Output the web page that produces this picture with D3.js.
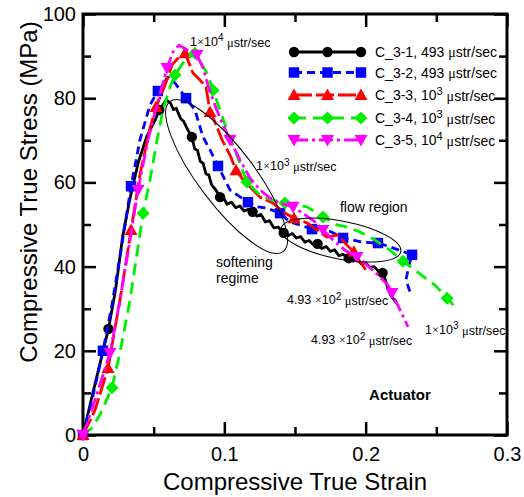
<!DOCTYPE html>
<html lang="en">
<head>
  <meta charset="utf-8">
  <title>Compressive True Stress vs Strain</title>
  <script src="https://cdn.jsdelivr.net/npm/d3@7"></script>
  <style>
    body { margin: 0; background: #fff; }
    text { font-family: "Liberation Sans", Arial, sans-serif; fill: #000; }
  </style>
</head>
<body>
  <svg class="chart"></svg>
<script>
  //1. Data (strain, stress in MPa)

  var c31Strain = [0, 0.007, 0.018, 0.023, 0.028, 0.033, 0.039, 0.045, 0.051, 0.054, 0.059, 0.062, 0.064, 0.066, 0.069, 0.071, 0.074, 0.077, 0.079, 0.081, 0.083, 0.085, 0.087, 0.089, 0.091, 0.094, 0.097, 0.100, 0.102, 0.105, 0.108, 0.111, 0.114, 0.117, 0.120, 0.123, 0.126, 0.129, 0.132, 0.135, 0.138, 0.142, 0.145, 0.148, 0.151, 0.154, 0.157, 0.160, 0.163, 0.166, 0.169, 0.172, 0.175, 0.178, 0.181, 0.184, 0.188, 0.191, 0.194, 0.197, 0.200, 0.203, 0.206, 0.209, 0.212, 0.214, 0.216, 0.218, 0.222];
  var c31Stress = [0, 10, 25.2, 34.4, 47, 55.8, 64.6, 70.8, 74.8, 77.2, 79.6, 78.8, 77.3, 77.6, 75.2, 74.6, 72.6, 70.8, 68.0, 67.6, 65.0, 64.5, 62.0, 61.8, 59.4, 58.2, 56.5, 56.0, 54.8, 55.3, 54.0, 54.4, 53.2, 53.6, 53.0, 52.0, 52.4, 50.6, 50.9, 49.2, 49.4, 48.0, 47.3, 47.9, 46.8, 47.1, 45.8, 46.2, 45.2, 45.4, 44.3, 44.8, 43.6, 44.0, 42.6, 42.9, 42.0, 41.3, 41.7, 40.6, 40.9, 39.8, 40.0, 38.9, 38.5, 36.8, 34.5, 33.0, 31.4];
  var c31MarkStrain = [0.018, 0.054, 0.077, 0.097, 0.120, 0.142, 0.166, 0.188, 0.212];
  var c31MarkStress = [25.2, 77.2, 70.8, 56.5, 53, 48, 45.4, 42, 38.5];

  var c32Strain = [0, 0.0064, 0.0141, 0.0205, 0.0269, 0.034, 0.0403, 0.0474, 0.053, 0.0601, 0.0651, 0.0729, 0.0792, 0.0849, 0.0899, 0.0955, 0.104, 0.1167, 0.1231, 0.1302, 0.1394, 0.1465, 0.1535, 0.162, 0.1698, 0.184, 0.1981, 0.2087, 0.2172, 0.2328, 0.2307, 0.2285, 0.2314];
  var c32Stress = [0, 8.3, 20, 30.9, 43.9, 59.1, 70.1, 78.4, 81.7, 85, 83.6, 80, 77.2, 70.8, 67.7, 63.9, 58.2, 55.3, 54.2, 53.9, 52.7, 50.6, 49.9, 48.9, 49.2, 46.8, 45.8, 45.6, 44.7, 42.8, 40.4, 36.8, 34];
  var c32MarkStrain = [0, 0.0141, 0.034, 0.053, 0.0729, 0.0955, 0.1167, 0.1394, 0.162, 0.184, 0.2087, 0.2328];
  var c32MarkStress = [0, 20, 59.1, 81.7, 80, 63.9, 55.3, 52.7, 48.9, 46.8, 45.6, 42.8];

  var c33Strain = [0, 0.0085, 0.0177, 0.0262, 0.034, 0.0403, 0.0474, 0.0517, 0.058, 0.063, 0.0672, 0.0722, 0.0778, 0.0828, 0.087, 0.0899, 0.0934, 0.0984, 0.104, 0.1083, 0.1125, 0.1182, 0.1252, 0.1344, 0.1415, 0.1493, 0.1585, 0.1656, 0.1726, 0.1797, 0.1868, 0.1917, 0.196, 0.2002];
  var c33Stress = [0, 5.9, 15.9, 32.1, 48.7, 61.8, 72.9, 77.9, 83.1, 87.9, 89.5, 90.7, 86, 84.3, 82.7, 76.7, 74.3, 70.1, 66.5, 62.9, 61, 58.9, 56.5, 55.1, 53, 51.5, 50.4, 48.7, 47, 47.5, 45.1, 43.5, 41.1, 39.2];
  var c33MarkStrain = [0, 0.0177, 0.034, 0.0517, 0.0722, 0.0899, 0.1083, 0.1493, 0.1917];
  var c33MarkStress = [0, 15.9, 48.7, 77.9, 90.7, 76.7, 62.9, 51.5, 43.5];

  var c34Strain = [0, 0.0064, 0.012, 0.0205, 0.0262, 0.0333, 0.0425, 0.0474, 0.0524, 0.0566, 0.0616, 0.0651, 0.0722, 0.0792, 0.0877, 0.092, 0.0969, 0.1019, 0.1075, 0.116, 0.1252, 0.1337, 0.1429, 0.1514, 0.1585, 0.1642, 0.1698, 0.1797, 0.1889, 0.196, 0.2066, 0.2172, 0.2264, 0.2349, 0.242, 0.2491, 0.2576, 0.2653];
  var c34Stress = [0, 1.7, 4.8, 11.2, 19.7, 32.1, 52.7, 60.6, 70.1, 77.2, 82.7, 85.5, 89.1, 90.7, 86, 81.9, 77.2, 72.4, 67.7, 60.1, 57, 55.8, 55.1, 54.6, 54.2, 53, 51.8, 49.9, 49.2, 48.2, 46.3, 43.9, 41.3, 39.2, 37.3, 35.6, 32.5, 29.7];
  var c34MarkStrain = [0.0205, 0.0425, 0.0651, 0.0792, 0.092, 0.116, 0.1429, 0.1698, 0.2264, 0.2576];
  var c34MarkStress = [11.2, 52.7, 85.5, 90.7, 81.9, 60.1, 55.1, 51.8, 41.3, 32.5];

  var c35Strain = [0, 0.0085, 0.0191, 0.0262, 0.0333, 0.0389, 0.046, 0.0524, 0.0594, 0.0637, 0.0679, 0.0743, 0.0807, 0.0849, 0.0884, 0.092, 0.0969, 0.104, 0.1111, 0.1182, 0.1252, 0.1323, 0.1394, 0.1486, 0.1571, 0.1642, 0.1698, 0.1769, 0.1854, 0.1939, 0.2009, 0.2087, 0.2158, 0.2186, 0.2243, 0.23];
  var c35Stress = [0, 8.3, 19.5, 32.1, 46.3, 58.2, 70.1, 78.4, 87.2, 91, 92.6, 91.4, 90.3, 87.2, 83.1, 79.6, 75.3, 70.1, 65.3, 61, 58.2, 56.3, 55.1, 54.2, 52.3, 50.6, 48.7, 46.3, 43.9, 42.3, 40.4, 38, 35.6, 33.7, 29.7, 25.7];
  var c35MarkStrain = [0, 0.0191, 0.0389, 0.0594, 0.0807, 0.104, 0.1486, 0.1698, 0.1939, 0.2186];
  var c35MarkStress = [0, 19.5, 58.2, 87.2, 90.3, 70.1, 54.2, 48.7, 42.3, 33.7];

  var seriesNames = ["C_3-1, 493 ", "C_3-2, 493 ", "C_3-3, 10", "C_3-4, 10", "C_3-5, 10"];
  var seriesSup = ["", "", "3", "3", "4"];

  var xMajorTicks = [0, 0.1, 0.2, 0.3];
  var xMinorTicks = [0.05, 0.15, 0.25];
  var yMajorTicks = [0, 20, 40, 60, 80, 100];
  var yMinorTicks = [10, 30, 50, 70, 90];

  //2. Chart layout
  var W = 524, H = 497;
  var x = d3.scaleLinear().domain([0, 0.3]).range([83, 507]);
  var y = d3.scaleLinear().domain([0, 100]).range([435, 14]);

  var svg = d3.select(".chart").attr("width", W).attr("height", H);

  var styles = [
    { color: "#000000", dash: null, shape: "circle" },
    { color: "#0000ff", dash: "8,5", shape: "square" },
    { color: "#ff0000", dash: "18,4", shape: "triangle" },
    { color: "#00ee00", dash: "12,7", shape: "diamond" },
    { color: "#ff00ff", dash: "14,4,3,4", shape: "triangleDown" }
  ];

  var series = [
    { xs: c31Strain, ys: c31Stress, mx: c31MarkStrain, my: c31MarkStress },
    { xs: c32Strain, ys: c32Stress, mx: c32MarkStrain, my: c32MarkStress },
    { xs: c33Strain, ys: c33Stress, mx: c33MarkStrain, my: c33MarkStress },
    { xs: c34Strain, ys: c34Stress, mx: c34MarkStrain, my: c34MarkStress },
    { xs: c35Strain, ys: c35Stress, mx: c35MarkStrain, my: c35MarkStress }
  ];

  function markerPath(shape) {
    if (shape === "circle") return d3.symbol(d3.symbolCircle, 85)();
    if (shape === "square") return d3.symbol(d3.symbolSquare, 110)();
    if (shape === "diamond") return "M0,-6.5L6.5,0L0,6.5L-6.5,0Z";
    if (shape === "triangle") return "M0,-6.5L6.5,5L-6.5,5Z";
    return "M0,6.5L6.5,-5L-6.5,-5Z";
  }

  //3. Axes (ticks pointing inward, on all four sides)
  function tickAxis(gen, vals, size) {
    return gen.tickValues(vals).tickSize(size).tickFormat("");
  }
  var axes = svg.append("g").attr("class", "axes");

  axes.append("g").attr("transform", "translate(0,435)")
    .call(d3.axisBottom(x).tickValues(xMajorTicks).tickSize(-13).tickPadding(12)
      .tickFormat(d => d === 0 ? "0" : d3.format(".1f")(d)));
  axes.append("g").attr("transform", "translate(0,435)").call(tickAxis(d3.axisBottom(x), xMinorTicks, -8));
  axes.append("g").attr("transform", "translate(0,14)").call(tickAxis(d3.axisTop(x), xMajorTicks, -13));
  axes.append("g").attr("transform", "translate(0,14)").call(tickAxis(d3.axisTop(x), xMinorTicks, -8));

  axes.append("g").attr("transform", "translate(83,0)")
    .call(d3.axisLeft(y).tickValues(yMajorTicks).tickSize(-13).tickPadding(7));
  axes.append("g").attr("transform", "translate(83,0)").call(tickAxis(d3.axisLeft(y), yMinorTicks, -8));
  axes.append("g").attr("transform", "translate(507,0)").call(tickAxis(d3.axisRight(y), yMajorTicks, -13));
  axes.append("g").attr("transform", "translate(507,0)").call(tickAxis(d3.axisRight(y), yMinorTicks, -8));

  axes.selectAll(".domain").remove();
  axes.selectAll(".tick line").attr("stroke", "#000").attr("stroke-width", 2.5);
  axes.selectAll(".tick text").style("font-size", "20px").attr("fill", "#000");

  svg.append("rect")
    .attr("x", x(0)).attr("y", y(100))
    .attr("width", x(0.3) - x(0)).attr("height", y(0) - y(100))
    .attr("fill", "none").attr("stroke", "#000").attr("stroke-width", 3);

  svg.append("text")
    .attr("x", (x(0) + x(0.3)) / 2).attr("y", 490)
    .attr("text-anchor", "middle").style("font-size", "24px")
    .text("Compressive True Strain");
  svg.append("text")
    .attr("transform", "translate(37," + 192 + ") rotate(-90)")
    .attr("text-anchor", "middle").style("font-size", "24px")
    .text("Compressive True Stress (MPa)");

  //4. Curves and markers
  var line = d3.line().x(d => x(d[0])).y(d => y(d[1]));

  series.forEach(function(s, i) {
    var st = styles[i];
    var pts = s.xs.map((v, k) => [v, s.ys[k]]);
    var marks = s.mx.map((v, k) => [v, s.my[k]]);
    var g = svg.append("g");
    g.append("path").datum(pts)
      .attr("d", line)
      .attr("fill", "none")
      .attr("stroke", st.color)
      .attr("stroke-width", 2.8)
      .attr("stroke-dasharray", st.dash)
      .attr("stroke-linejoin", "round");
    g.selectAll("path.mark").data(marks).enter().append("path")
      .attr("class", "mark")
      .attr("transform", d => "translate(" + x(d[0]) + "," + y(d[1]) + ")")
      .attr("d", markerPath(st.shape))
      .attr("fill", st.color);
  });

  //5. Ellipses marking regions
  var ellipses = [
    { cx: 0.1016, cy: 61.4, rx: 94, ry: 28, rot: 53 },
    { cx: 0.1825, cy: 46.3, rx: 61, ry: 19, rot: 11 }
  ];
  svg.selectAll("ellipse.region").data(ellipses).enter().append("ellipse")
    .attr("class", "region")
    .attr("transform", d => "translate(" + x(d.cx) + "," + y(d.cy) + ") rotate(" + d.rot + ")")
    .attr("rx", d => d.rx).attr("ry", d => d.ry)
    .attr("fill", "none").attr("stroke", "#000").attr("stroke-width", 1);

  //6. Annotations
  function rateText(sel, pre, base, sup) {
    sel.append("tspan").text(pre);
    sel.append("tspan").style("font-family", "'Liberation Serif', serif").text("\u00d7");
    sel.append("tspan").text(base);
    sel.append("tspan").attr("dy", "-0.45em").style("font-size", "0.8em").text(sup);
    sel.append("tspan").attr("dy", "0.45em").text(" ");
    sel.append("tspan").style("font-family", "'Liberation Serif', serif").text("\u03bc");
    sel.append("tspan").text("str/sec");
  }

  var rateLabels = [
    { sx: 0.0757, sy: 92.4, pre: "1", sup: "4" },
    { sx: 0.1224, sy: 62.9, pre: "1", sup: "3" },
    { sx: 0.1443, sy: 31.1, pre: "4.93 ", sup: "2" },
    { sx: 0.1613, sy: 21.6, pre: "4.93 ", sup: "2" },
    { sx: 0.242, sy: 24.0, pre: "1", sup: "3" }
  ];
  rateLabels.forEach(function(d) {
    var t = svg.append("text").attr("x", x(d.sx)).attr("y", y(d.sy)).style("font-size", "12.5px");
    rateText(t, d.pre, "10", d.sup);
  });

  var noteLabels = [
    { sx: 0.1818, sy: 53.0, text: "flow region", weight: "normal" },
    { sx: 0.0941, sy: 39.9, text: "softening", weight: "normal" },
    { sx: 0.0941, sy: 36.1, text: "regime", weight: "normal" },
    { sx: 0.2024, sy: 8.3, text: "Actuator", weight: "bold" }
  ];
  svg.selectAll("text.note").data(noteLabels).enter().append("text")
    .attr("class", "note")
    .attr("x", d => x(d.sx)).attr("y", d => y(d.sy))
    .style("font-size", d => d.weight === "bold" ? "15px" : "14px")
    .style("font-weight", d => d.weight)
    .text(d => d.text);

  //7. Legend
  var legend = svg.append("g").attr("transform", "translate(294,52)");
  var rowY = [0, 20.5, 43, 66, 88];
  seriesNames.forEach(function(name, i) {
    var st = styles[i];
    var row = legend.append("g").attr("transform", "translate(0," + rowY[i] + ")");
    row.append("line").attr("x1", 0).attr("x2", 67)
      .attr("stroke", st.color).attr("stroke-width", 2.8)
      .attr("stroke-dasharray", st.dash);
    [0, 33.5, 67].forEach(function(mx) {
      row.append("path").attr("transform", "translate(" + mx + ",0)")
        .attr("d", markerPath(st.shape)).attr("fill", st.color);
    });
    var t = row.append("text").attr("x", 81).attr("y", 5).style("font-size", "14px");
    t.append("tspan").text(name);
    if (seriesSup[i]) {
      t.append("tspan").attr("dy", "-0.45em").style("font-size", "0.8em").text(seriesSup[i]);
      t.append("tspan").attr("dy", "0.45em").text(" ");
    }
    t.append("tspan").style("font-family", "'Liberation Serif', serif").text("\u03bc");
    t.append("tspan").text("str/sec");
  });
</script>
</body>
</html>
